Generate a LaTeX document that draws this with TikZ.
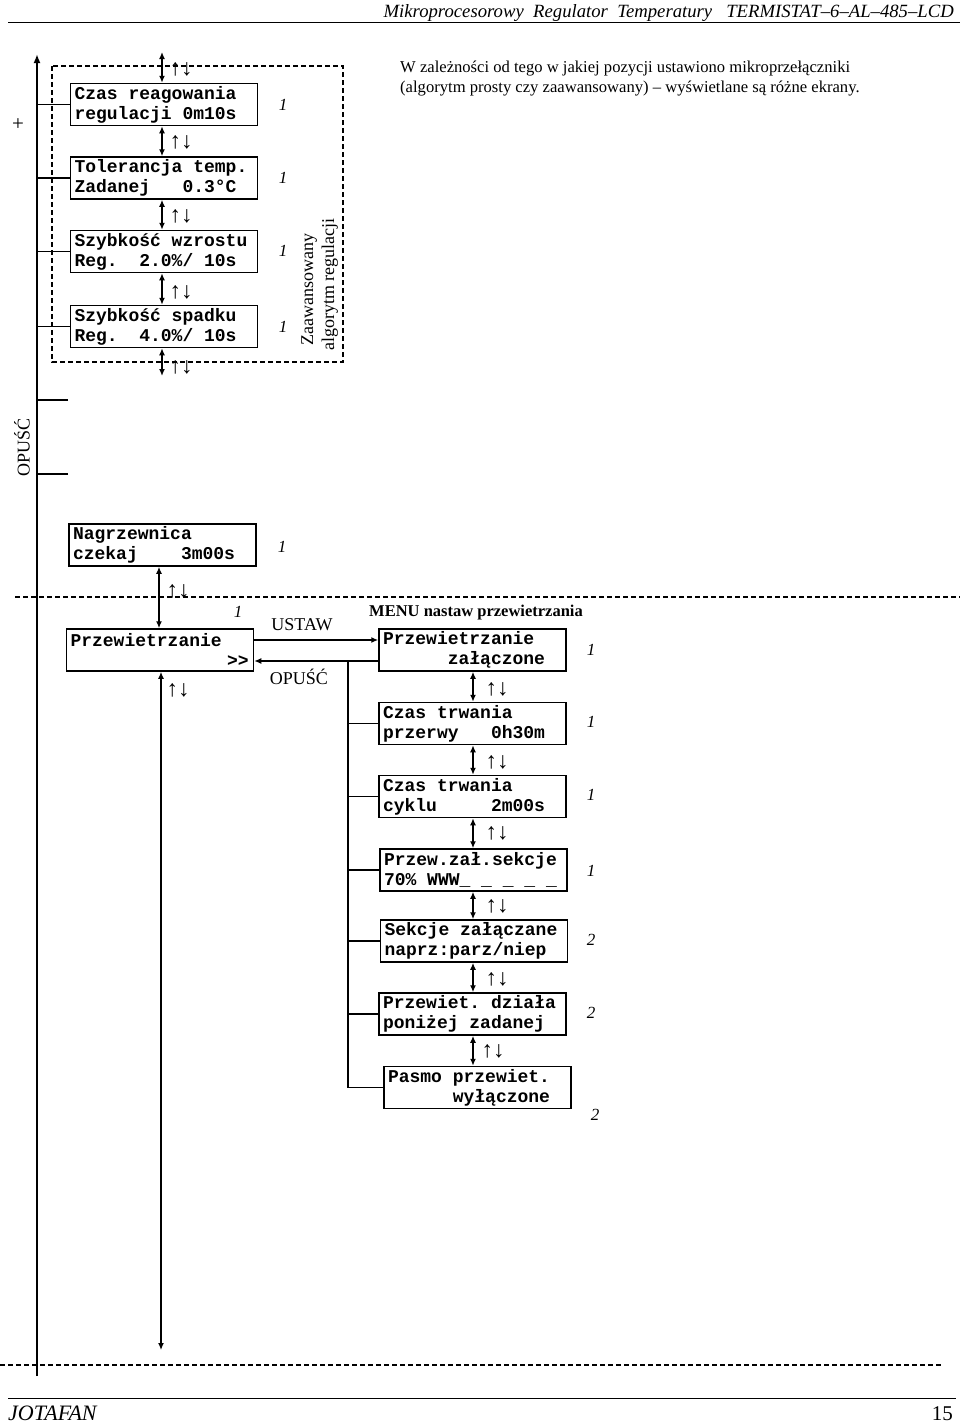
\documentclass[tikz,border=0pt]{standalone}
\usepackage{fontspec}
\setmainfont{Liberation Serif}
\setmonofont{Liberation Mono}
\usetikzlibrary{arrows.meta}
\newcommand\lcdf{\ttfamily\bfseries\fontsize{18}{20}\selectfont}
\newcommand\udf{\fontsize{23}{24}\selectfont}
\newcommand\onef{\itshape\fontsize{17}{20}\selectfont}
\newcommand\lblf{\fontsize{18}{21}\selectfont}
\newcommand\ud{↑↓}
\newcommand\sk{\hspace*{0.6em}}
\begin{document}
\begin{tikzpicture}[x=1pt,y=-1pt,
  lcd/.style={draw, line width=1.5pt, font=\lcdf, align=left, text width=179pt, inner xsep=4pt, inner ysep=0pt, minimum height=42pt},
  conn/.style={line width=1.6pt},
  thinconn/.style={line width=1.3pt},
  dbl/.style={line width=1.8pt, {Latex[length=7pt,width=6pt]}-{Latex[length=7pt,width=6pt]}},
  onearrow/.style={line width=1.6pt, -{Latex[length=7pt,width=6pt]}},
  dsh/.style={line width=1.2pt, dash pattern=on 5pt off 3pt},
  udl/.style={font=\udf, inner sep=0pt},
  one/.style={font=\onef, inner sep=0pt},
  lbl/.style={font=\lblf, inner sep=0pt}]

\useasboundingbox (0,0) rectangle (960,1424);

% header and footer
\node[anchor=base east, font=\itshape\fontsize{18.7}{20}\selectfont, inner sep=0pt] (hdr) at (954,17) {Mikroprocesorowy\ \ Regulator\ \ Temperatury\ \ \ TERMISTAT–6–AL–485–LCD};
\draw[line width=1pt] (8,22) -- (960,22);
\draw[line width=1pt] (8,1398) -- (956,1398);
\node[anchor=base west, font=\itshape\fontsize{22}{24}\selectfont, inner sep=0pt] (ftl) at (8,1420) {JOTAFAN};
\node[anchor=base east, font=\fontsize{21}{22}\selectfont, inner sep=0pt] (ftr) at (953,1420) {15};

% paragraph
\node[anchor=base west, font=\fontsize{16.6}{20}\selectfont, inner sep=0pt] (p1) at (400,72) {W zależności od tego w jakiej pozycji ustawiono mikroprzełączniki};
\node[anchor=base west, font=\fontsize{16.6}{20}\selectfont, inner sep=0pt] (p2) at (400,92) {(algorytm prosty czy zaawansowany) – wyświetlane są różne ekrany.};

% side labels
\node[font=\fontsize{21}{22}\selectfont, inner sep=0pt] (plus) at (18,125) {+};
\node[rotate=90, font=\fontsize{18}{20}\selectfont, inner sep=0pt] (opl) at (22,447) {OPUŚĆ};

% dashed regions
\draw[dsh] (52,66) rectangle (343,362);
\draw[dsh] (15,597) -- (960,597);
\draw[dsh] (0,1365) -- (942,1365);

% main vertical line
\coordinate (mtop) at (37,54);
\coordinate (mbot) at (37,1376);
\draw[line width=1.8pt, -{Latex[length=9pt,width=7pt]}] (mbot) -- (mtop);

% upper LCD boxes
\node[lcd] (b1) at (164,104.5) {Czas\sk reagowania\\regulacji\sk 0m10s};
\node[lcd] (b2) at (164,178) {Tolerancja\sk temp.\\Zadanej\sk\sk\sk 0.3°C};
\node[lcd] (b3) at (164,251.5) {Szybkość\sk wzrostu\\Reg.\sk\sk 2.0\%/\sk 10s};
\node[lcd] (b4) at (164,326.5) {Szybkość\sk spadku\\Reg.\sk\sk 4.0\%/\sk 10s};

\foreach \b in {b1,b2,b3,b4} {\draw[conn] (\b.west) -- (\b.west -| mtop);}
\coordinate (tk1) at (68,400);
\coordinate (tk2) at (68,474);
\draw[conn] (tk1) -- (tk1 -| mtop);
\draw[conn] (tk2) -- (tk2 -| mtop);

\coordinate (ux) at (162,0);
\coordinate (utop) at (162,52);
\coordinate (ubot) at (162,376);
\draw[dbl] (utop) -- (b1.north -| ux);
\draw[dbl] (b1.south -| ux) -- (b2.north -| ux);
\draw[dbl] (b2.south -| ux) -- (b3.north -| ux);
\draw[dbl] (b3.south -| ux) -- (b4.north -| ux);
\draw[dbl] (b4.south -| ux) -- (ubot);

\node[udl] (u0) at (181,69) {\ud};
\node[udl] (u1) at (181,142) {\ud};
\node[udl] (u2) at (181,216) {\ud};
\node[udl] (u3) at (181,292) {\ud};
\node[udl] (u4) at (181,367) {\ud};

\node[one] (o1) at (283,105) {1};
\node[one] (o2) at (283,178) {1};
\node[one] (o3) at (283,251) {1};
\node[one] (o4) at (283,327) {1};

\node[rotate=90, anchor=base west, font=\lblf, inner sep=0pt] (zaa) at (313,346) {Zaawansowany};
\node[rotate=90, anchor=base west, font=\lblf, inner sep=0pt] (alg) at (334,351) {algorytm regulacji};

% Nagrzewnica and Przewietrzanie
\node[lcd] (nag) at (162.5,545) {Nagrzewnica\\czekaj\sk\sk\sk\sk 3m00s};
\node[one] (o5) at (282,547) {1};
\node[lcd] (prz) at (160,650) {Przewietrzanie\\\hspace*{8.7em}>{}>};
\node[one] (o6) at (238,612) {1};

\coordinate (ax) at (159,0);
\draw[dbl] (nag.south -| ax) -- (prz.north -| ax);
\node[udl] (u5) at (178,591) {\ud};

\coordinate (px) at (161,0);
\coordinate (pbot) at (161,1350);
\draw[thinconn, {Latex[length=7pt,width=6pt]}-{Latex[length=7pt,width=6pt]}] (prz.south -| px) -- (pbot);
\node[udl] (u6) at (178,690) {\ud};

% menu boxes
\node[font=\bfseries\fontsize{16.5}{20}\selectfont, inner sep=0pt] (menu) at (476,613) {MENU nastaw przewietrzania};
\node[lcd] (m1) at (472.5,650) {Przewietrzanie\\\hspace*{3.6em}załączone};
\node[lcd] (m2) at (472.5,723.5) {Czas\sk trwania\\przerwy\sk\sk\sk 0h30m};
\node[lcd] (m3) at (472.5,796.5) {Czas\sk trwania\\cyklu\sk\sk\sk\sk\sk 2m00s};
\node[lcd] (m4) at (473.5,870) {Przew.zał.sekcje\\70\%\sk WWW\_\sk\_\sk\_\sk\_\sk\_};
\node[lcd] (m5) at (474,941) {Sekcje\sk załączane\\naprz:parz/niep};
\node[lcd] (m6) at (472.5,1014) {Przewiet.\sk działa\\poniżej\sk zadanej};
\node[lcd] (m7) at (477.5,1087.5) {Pasmo\sk przewiet.\\\hspace*{3.6em}wyłączone};

\draw[onearrow] ([yshift=10pt]prz.east) -- ([yshift=10pt]m1.west);
\draw[onearrow] ([yshift=-11pt]m1.west) -- ([yshift=-11pt]prz.east);
\node[lbl] (ust) at (302,625) {USTAW};
\node[lbl] (opm) at (299,677) {OPUŚĆ};

\coordinate (vt) at (348,661);
\draw[thinconn] (vt) |- (m7.west);
\foreach \m in {m2,m3,m4,m5,m6} {\draw[thinconn] (\m.west) -- (\m.west -| vt);}

\coordinate (mx) at (473,0);
\draw[dbl] (m1.south -| mx) -- (m2.north -| mx);
\draw[dbl] (m2.south -| mx) -- (m3.north -| mx);
\draw[dbl] (m3.south -| mx) -- (m4.north -| mx);
\draw[dbl] (m4.south -| mx) -- (m5.north -| mx);
\draw[dbl] (m5.south -| mx) -- (m6.north -| mx);
\draw[dbl] (m6.south -| mx) -- (m7.north -| mx);

\node[udl] (v1) at (497,689) {\ud};
\node[udl] (v2) at (497,762) {\ud};
\node[udl] (v3) at (497,833) {\ud};
\node[udl] (v4) at (497,906) {\ud};
\node[udl] (v5) at (497,979) {\ud};
\node[udl] (v6) at (493,1051) {\ud};

\node[one] (n1) at (591,650) {1};
\node[one] (n2) at (591,722) {1};
\node[one] (n3) at (591,795) {1};
\node[one] (n4) at (591,871) {1};
\node[one] (n5) at (591,940) {2};
\node[one] (n6) at (591,1013) {2};
\node[one] (n7) at (595,1115) {2};
\end{tikzpicture}
\end{document}
